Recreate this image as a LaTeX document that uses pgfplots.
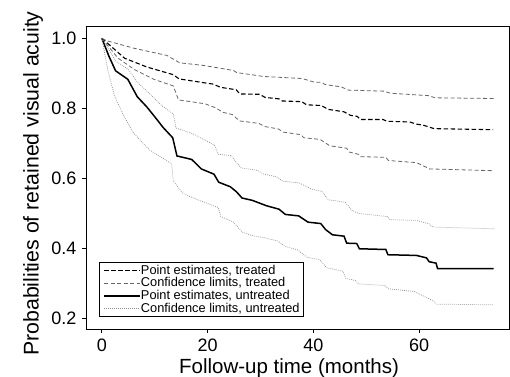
\documentclass[border=0pt]{standalone}
\usepackage{pgfplots}
\pgfplotsset{compat=1.18}
\usepackage{fontspec}
\setmainfont{Liberation Sans}
\begin{document}
\begin{tikzpicture}
\begin{axis}[
  scale only axis,
  width=423pt, height=303pt,
  xmin=-3, xmax=77, ymin=0.17, ymax=1.035,
  xtick={0,20,40,60},
  ytick={0.2,0.4,0.6,0.8,1.0},
  tick pos=left,
  tick align=outside,
  major tick length=4pt,
  axis line style={line width=0.9pt},
  every tick/.style={line width=0.9pt, black},
  /pgf/number format/assume math mode=true,
  yticklabel style={/pgf/number format/fixed, /pgf/number format/fixed zerofill, /pgf/number format/precision=1, xshift=-2pt},
  ticklabel style={font=\fontsize{18}{20}\selectfont},
  xticklabel style={yshift=-2pt},
  xlabel={Follow-up time (months)},
  ylabel={Probabilities of retained visual acuity},
  xlabel style={font=\fontsize{20.5}{22}\selectfont, at={(axis description cs:0.48,-0.128)}, anchor=center},
  ylabel style={font=\fontsize{21.3}{23}\selectfont, at={(axis description cs:-0.125,0.48)}, anchor=center},
  legend cell align=left,
  legend image code/.code={\draw[#1] (0pt,0pt) -- (36pt,0pt);},
  legend style={at={(0.031,0.04)}, anchor=south west,
    font=\fontsize{12.8}{12}\selectfont, draw=black, line width=0.7pt,
    inner xsep=4pt, inner ysep=2.5pt, row sep=2pt,
    nodes={inner sep=0pt, outer sep=0pt}},
]
% Point estimates, treated
\addplot[black, line width=1.1pt, dash pattern=on 4.5pt off 2.5pt] coordinates {
(0,1.0)(4.3,0.943)(8.5,0.918)(13.5,0.896)(14.6,0.884)(19.3,0.873)(21.1,0.869)(22.4,0.860)
(25.4,0.853)(26.1,0.841)(29.8,0.840)(30.9,0.831)(33.5,0.827)(34.1,0.821)(37.8,0.819)
(38.7,0.810)(41.5,0.808)(42.8,0.797)(45.8,0.790)(47.0,0.780)(48.3,0.777)(48.9,0.768)
(53.2,0.768)(53.9,0.763)(58.2,0.761)(59.5,0.755)(61.0,0.751)(62.8,0.742)(74.0,0.739)};
\addlegendentry{Point estimates, treated}
% Confidence limits, treated (lower)
\addplot[black!60, line width=0.8pt, dash pattern=on 4pt off 2.5pt] coordinates {
(0,1.0)(3.0,0.944)(6.1,0.911)(9.8,0.883)(13.5,0.864)(14.5,0.824)(19.5,0.813)(21.6,0.801)
(22.8,0.789)(24.7,0.782)(26.0,0.764)(29.7,0.757)(30.8,0.748)(33.4,0.741)(34.3,0.732)
(37.6,0.725)(38.2,0.716)(41.3,0.711)(43.1,0.693)(46.3,0.686)(46.8,0.675)(48.7,0.668)
(49.0,0.662)(53.7,0.660)(54.2,0.651)(59.5,0.645)(62.0,0.627)(73.8,0.622)};
\addlegendentry{Confidence limits, treated}
% Point estimates, untreated
\addplot[black, line width=1.5pt] coordinates {
(0,1.0)(1.3,0.950)(2.6,0.907)(4.9,0.883)(6.7,0.833)(8.5,0.804)(10.1,0.774)(11.6,0.745)
(13.4,0.716)(14.2,0.664)(17.0,0.654)(18.8,0.627)(21.2,0.612)(22.1,0.589)(24.3,0.576)
(25.5,0.561)(26.5,0.544)(28.5,0.537)(31.1,0.522)(33.5,0.512)(34.7,0.497)(37.2,0.493)
(39.0,0.475)(41.4,0.471)(42.3,0.454)(43.6,0.439)(45.8,0.435)(46.3,0.415)(48.2,0.414)
(48.7,0.399)(53.7,0.397)(54.1,0.382)(59.5,0.380)(61.4,0.373)(61.9,0.362)(63.2,0.358)
(63.5,0.342)(74.1,0.342)};
\addlegendentry{Point estimates, untreated}
% Confidence limits, untreated (upper)
\addplot[black!45, line width=0.7pt, dash pattern=on 0.8pt off 1.2pt] coordinates {
(0,1.0)(2.6,0.935)(5.0,0.911)(6.8,0.873)(9.3,0.838)(11.3,0.808)(13.5,0.784)(14.0,0.744)
(17.1,0.728)(19.0,0.713)(21.3,0.695)(22.0,0.669)(24.4,0.665)(26.3,0.630)(29.4,0.623)
(30.5,0.613)(33.1,0.604)(34.2,0.592)(37.3,0.587)(39.7,0.569)(41.6,0.563)(42.8,0.539)
(46.0,0.532)(47.3,0.509)(48.5,0.500)(54.0,0.491)(54.5,0.482)(59.5,0.480)(61.9,0.470)
(62.6,0.461)(74.4,0.456)};
\addlegendentry{Confidence limits, untreated}
% Confidence limits, treated (upper)
\addplot[black!60, line width=0.8pt, dash pattern=on 4pt off 2.5pt, forget plot] coordinates {
(0,1.0)(0.9,0.993)(6.2,0.971)(12.3,0.951)(14.7,0.930)(19.4,0.922)(24.9,0.908)(25.5,0.902)
(29.2,0.894)(30.5,0.891)(37.9,0.885)(40.1,0.875)(41.6,0.874)(42.2,0.868)(45.3,0.861)
(46.6,0.852)(53.3,0.849)(54.6,0.843)(61.9,0.836)(63.0,0.830)(74.2,0.828)};
% Confidence limits, untreated (lower)
\addplot[black!45, line width=0.7pt, dash pattern=on 0.8pt off 1.2pt, forget plot] coordinates {
(0,1.0)(1.2,0.904)(2.4,0.835)(4.2,0.777)(5.9,0.731)(9.0,0.681)(11.4,0.659)(13.2,0.641)
(13.5,0.593)(15.3,0.557)(18.6,0.536)(22.0,0.517)(22.5,0.491)(24.8,0.476)(26.5,0.447)
(28.3,0.437)(30.9,0.430)(33.3,0.421)(34.6,0.406)(37.0,0.396)(38.8,0.375)(41.2,0.368)
(42.5,0.345)(45.6,0.335)(46.1,0.315)(48.0,0.308)(48.5,0.299)(53.6,0.294)(54.1,0.285)
(59.1,0.277)(61.5,0.259)(62.8,0.250)(63.1,0.241)(73.9,0.239)};
\end{axis}
\pgfresetboundingbox
\useasboundingbox ([shift={(-86pt,-48pt)}]current axis.south west) rectangle ([shift={(1pt,26pt)}]current axis.north east);
\end{tikzpicture}
\end{document}
